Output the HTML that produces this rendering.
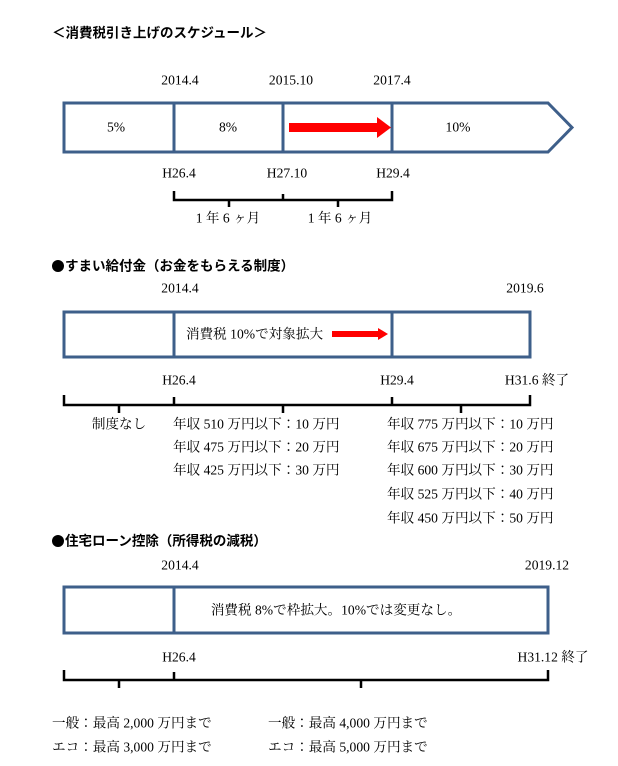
<!DOCTYPE html>
<html><head><meta charset="utf-8"><style>
html,body{margin:0;padding:0;background:#fff;}
svg{display:block;}
text{font-family:"Liberation Serif","Noto Serif CJK JP",serif;font-size:13.6px;fill:#000;dominant-baseline:central;}
.b{font-family:"Liberation Sans","Noto Sans CJK JP",sans-serif;font-weight:bold;font-size:13.5px;}
.box{fill:none;stroke:#3e5f8a;stroke-width:3;}
.br{fill:none;stroke:#000;stroke-width:2.5;}
</style></head><body>
<svg width="618" height="766" viewBox="0 0 618 766">
<text x="52" y="33" class="b">＜消費税引き上げのスケジュール＞</text>
<text x="180" y="80" text-anchor="middle">2014.4</text>
<text x="291" y="80" text-anchor="middle">2015.10</text>
<text x="392" y="80" text-anchor="middle">2017.4</text>
<path class="box" d="M64 103 H548 L572 127.5 L548 152 H64 Z"/>
<path class="box" d="M174 103V152M283 103V152M392 103V152"/>
<text x="116" y="127" text-anchor="middle">5%</text>
<text x="228" y="127" text-anchor="middle">8%</text>
<text x="458" y="127" text-anchor="middle">10%</text>
<rect x="289" y="123" width="89" height="9" fill="#f00"/>
<polygon points="377,117 391,127.5 377,138" fill="#f00"/>
<text x="179" y="173" text-anchor="middle">H26.4</text>
<text x="287" y="173" text-anchor="middle">H27.10</text>
<text x="393" y="173" text-anchor="middle">H29.4</text>
<path class="br" d="M174 191V200H392V191M283 194V200M229 200V207M338 200V207"/>
<text x="228" y="218" text-anchor="middle">1 年 6 ヶ月</text>
<text x="340" y="218" text-anchor="middle">1 年 6 ヶ月</text>

<circle cx="58" cy="266" r="6" fill="#000"/>
<text x="65" y="266" class="b">すまい給付金（お金をもらえる制度）</text>
<text x="180" y="288" text-anchor="middle">2014.4</text>
<text x="525" y="288" text-anchor="middle">2019.6</text>
<rect class="box" x="64" y="312" width="466" height="45"/>
<path class="box" d="M174 312V357M392 312V357"/>
<text x="186" y="334">消費税 10%で対象拡大</text>
<rect x="332" y="331" width="47" height="6" fill="#f00"/>
<polygon points="378,328 388,334 378,340" fill="#f00"/>
<text x="179" y="380" text-anchor="middle">H26.4</text>
<text x="397" y="380" text-anchor="middle">H29.4</text>
<text x="537" y="380" text-anchor="middle">H31.6 終了</text>
<path class="br" d="M64 395V405H530V395M174 397V405M392 397V405M119 405V413M283 405V413M461 405V413"/>
<text x="119" y="424" text-anchor="middle">制度なし</text>
<text x="173" y="424">年収 510 万円以下：10 万円</text>
<text x="173" y="447">年収 475 万円以下：20 万円</text>
<text x="173" y="470">年収 425 万円以下：30 万円</text>
<text x="387" y="424">年収 775 万円以下：10 万円</text>
<text x="387" y="447">年収 675 万円以下：20 万円</text>
<text x="387" y="470">年収 600 万円以下：30 万円</text>
<text x="387" y="494">年収 525 万円以下：40 万円</text>
<text x="387" y="518">年収 450 万円以下：50 万円</text>

<circle cx="58" cy="541" r="6" fill="#000"/>
<text x="65" y="541" class="b">住宅ローン控除（所得税の減税）</text>
<text x="180" y="565" text-anchor="middle">2014.4</text>
<text x="547" y="565" text-anchor="middle">2019.12</text>
<rect class="box" x="64" y="587" width="484" height="46"/>
<path class="box" d="M174 587V633"/>
<text x="336" y="610" text-anchor="middle">消費税 8%で枠拡大。10%では変更なし。</text>
<text x="179" y="657" text-anchor="middle">H26.4</text>
<text x="553" y="657" text-anchor="middle">H31.12 終了</text>
<path class="br" d="M64 670V680H548V670M174 672V680M119 680V688M361 680V688"/>
<text x="52" y="723">一般：最高 2,000 万円まで</text>
<text x="52" y="747">エコ：最高 3,000 万円まで</text>
<text x="268" y="723">一般：最高 4,000 万円まで</text>
<text x="268" y="747">エコ：最高 5,000 万円まで</text>
</svg>
</body></html>
